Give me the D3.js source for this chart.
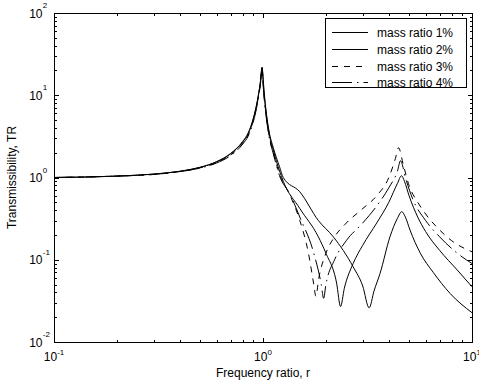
<!DOCTYPE html>
<html><head><meta charset="utf-8">
<script src="https://cdnjs.cloudflare.com/ajax/libs/d3/7.8.5/d3.min.js"></script>
<style>
html,body{margin:0;padding:0;background:#fff;}
svg{display:block;font-family:"Liberation Sans",Arial,sans-serif;}
</style></head>
<body>
<svg id="chart" width="479" height="385"></svg>
<script>
// ---- data ----
const seriesNames = ["mass ratio 1%", "mass ratio 2%", "mass ratio 3%", "mass ratio 4%"];
const xTickValues = [0.1, 1, 10];
const xTickExponents = ["-1", "0", "1"];
const yTickValues = [0.01, 0.1, 1, 10, 100];
const yTickExponents = ["-2", "-1", "0", "1", "2"];

const r1  = [0.1,0.2,0.3,0.4,0.5,0.6,0.7,0.8,0.85,0.9,0.95,0.97,0.99,1.0,1.01,1.02,1.04,1.07,1.12,1.2,1.25,1.5,1.84,2.17,2.7,3.0,3.22,3.4,3.63,4.05,4.4,4.61,4.8,5.05,5.66,6.53,7.85,10];
const tr1 = [1.0,1.04,1.1,1.19,1.33,1.56,1.96,2.75,3.5,5.3,10,14,22,17,12,9,5.8,3.6,2.3,1.35,1.0,0.67,0.3,0.19,0.082,0.048,0.026,0.042,0.068,0.19,0.32,0.384,0.33,0.23,0.12,0.07,0.039,0.0227];

const r2  = [0.1,0.2,0.3,0.4,0.5,0.6,0.7,0.8,0.85,0.9,0.95,0.97,0.99,1.0,1.01,1.02,1.04,1.07,1.12,1.2,1.25,1.5,1.84,2.0,2.25,2.35,2.45,2.7,3.0,3.5,4.0,4.4,4.6,4.75,5.0,5.5,6.0,7.0,8.5,10];
const tr2 = [1.0,1.04,1.1,1.19,1.33,1.55,1.94,2.7,3.4,5.2,9.8,14,21.5,16,11,8.5,5.5,3.4,2.15,1.2,0.9,0.42,0.19,0.12,0.052,0.027,0.045,0.09,0.15,0.28,0.5,0.85,1.05,0.9,0.6,0.33,0.22,0.13,0.075,0.047];

const r3  = [0.1,0.2,0.3,0.4,0.5,0.6,0.7,0.8,0.85,0.9,0.95,0.97,0.99,1.0,1.01,1.02,1.04,1.07,1.12,1.2,1.35,1.5,1.65,1.75,1.79,1.85,2.0,2.2,2.47,2.97,3.5,4.0,4.3,4.45,4.7,5.0,5.5,6.0,7.0,8.0,10];
const tr3 = [1.0,1.04,1.09,1.18,1.31,1.52,1.88,2.6,3.3,5.0,9.5,13.5,21,15,10.5,8,5.2,3.2,2.0,1.1,0.6,0.3,0.12,0.05,0.036,0.06,0.12,0.19,0.27,0.41,0.6,1.0,1.7,2.3,1.4,0.8,0.5,0.36,0.23,0.17,0.125];

const r4  = [0.1,0.2,0.3,0.4,0.5,0.6,0.7,0.8,0.85,0.9,0.95,0.97,0.99,1.0,1.01,1.02,1.04,1.07,1.12,1.2,1.35,1.5,1.75,1.9,1.95,2.0,2.2,2.5,3.0,3.5,4.0,4.4,4.55,4.8,5.2,6.0,7.0,8.5,10];
const tr4 = [1.0,1.04,1.09,1.18,1.3,1.5,1.85,2.55,3.2,4.8,9.2,13,20,14,10,7.5,5.0,3.1,1.95,1.05,0.62,0.33,0.12,0.05,0.034,0.05,0.1,0.17,0.28,0.45,0.75,1.2,1.6,1.0,0.55,0.3,0.19,0.12,0.09];

const seriesR = [r1, r2, r3, r4];
const seriesTR = [tr1, tr2, tr3, tr4];
const dashes = [null, null, "6,6", "20,5,1.5,5"];

// ---- layout ----
const svg = d3.select("#chart");
const L = 54, R = 472, T = 13, B = 342;
const x = d3.scaleLog().domain([0.1, 10]).range([L, R]);
const y = d3.scaleLog().domain([0.01, 100]).range([B, T]);

const g = svg.append("g");

// curves
svg.append("defs").append("clipPath").attr("id","clip")
  .append("rect").attr("x",L).attr("y",T).attr("width",R-L).attr("height",B-T);
const line = d3.line().x(d => x(d[0])).y(d => y(d[1])).curve(d3.curveMonotoneX);
const curves = g.append("g").attr("clip-path","url(#clip)");
seriesR.forEach((rs, i) => {
  const pts = rs.map((r, k) => [r, seriesTR[i][k]]);
  curves.append("path").attr("d", line(pts)).attr("fill","none")
    .attr("stroke","#000").attr("stroke-width",1)
    .attr("stroke-dasharray", dashes[i]);
});

// ticks (inward on all sides)
function minorTicks(dom){
  const out=[];
  for(let e=Math.log10(dom[0]); e<Math.log10(dom[1]); e++){
    for(let m=2;m<=9;m++) out.push(m*Math.pow(10,e));
  }
  return out;
}
const axG = g.append("g").attr("stroke","#000").attr("stroke-width",1).attr("shape-rendering","crispEdges");
const xMinor = minorTicks([0.1,10]), yMinor = minorTicks([0.01,100]);
const MJ = 4.5, MN = 2.5;
[...xTickValues.map(v=>[v,MJ]), ...xMinor.map(v=>[v,MN])].forEach(([v,len])=>{
  const px = Math.round(x(v))+0.5;
  axG.append("line").attr("x1",px).attr("x2",px).attr("y1",B).attr("y2",B-len);
  axG.append("line").attr("x1",px).attr("x2",px).attr("y1",T).attr("y2",T+len);
});
[...yTickValues.map(v=>[v,MJ]), ...yMinor.map(v=>[v,MN])].forEach(([v,len])=>{
  const py = Math.round(y(v))+0.5;
  axG.append("line").attr("y1",py).attr("y2",py).attr("x1",L).attr("x2",L+len);
  axG.append("line").attr("y1",py).attr("y2",py).attr("x1",R).attr("x2",R-len);
});
axG.append("rect").attr("x",L+0.5).attr("y",T+0.5).attr("width",R-L).attr("height",B-T)
  .attr("fill","none");

// tick labels
const lab = g.append("g").attr("fill","#000");
yTickValues.forEach((v,i)=>{
  const py = y(v);
  lab.append("text").attr("x",42.5).attr("y",py+4.5).attr("text-anchor","end")
    .attr("font-size",12).text("10");
  lab.append("text").attr("x",42.8).attr("y",py-5).attr("font-size",8).text(yTickExponents[i]);
});
xTickValues.forEach((v,i)=>{
  const px = x(v);
  const w1 = 13.35, w2 = xTickExponents[i].length===2 ? 7.1 : 4.45;
  const x0 = px - (w1+w2)/2;
  lab.append("text").attr("x",x0).attr("y",361).attr("font-size",12).text("10");
  lab.append("text").attr("x",x0+w1).attr("y",355).attr("font-size",8).text(xTickExponents[i]);
});

// axis titles
g.append("text").attr("x",(L+R)/2).attr("y",377).attr("text-anchor","middle")
  .attr("font-size",12).text("Frequency ratio, r");
g.append("text").attr("transform",`translate(16,${(T+B)/2}) rotate(-90)`)
  .attr("text-anchor","middle").attr("font-size",12).text("Transmissibility, TR");

// legend
const lg = g.append("g");
lg.append("rect").attr("x",325.5).attr("y",18.5).attr("width",141).attr("height",69)
  .attr("fill","#fff").attr("stroke","#000").attr("stroke-width",1).attr("shape-rendering","crispEdges");
const legY = [32, 49, 66, 82];
seriesNames.forEach((nm,i)=>{
  lg.append("line").attr("x1",332).attr("x2",368).attr("y1",legY[i]+0.5).attr("y2",legY[i]+0.5)
    .attr("stroke","#000").attr("stroke-width",1).attr("stroke-dasharray",dashes[i]);
  lg.append("text").attr("x",377).attr("y",legY[i]+4.5).attr("font-size",12).text(nm);
});
</script>
</body></html>
